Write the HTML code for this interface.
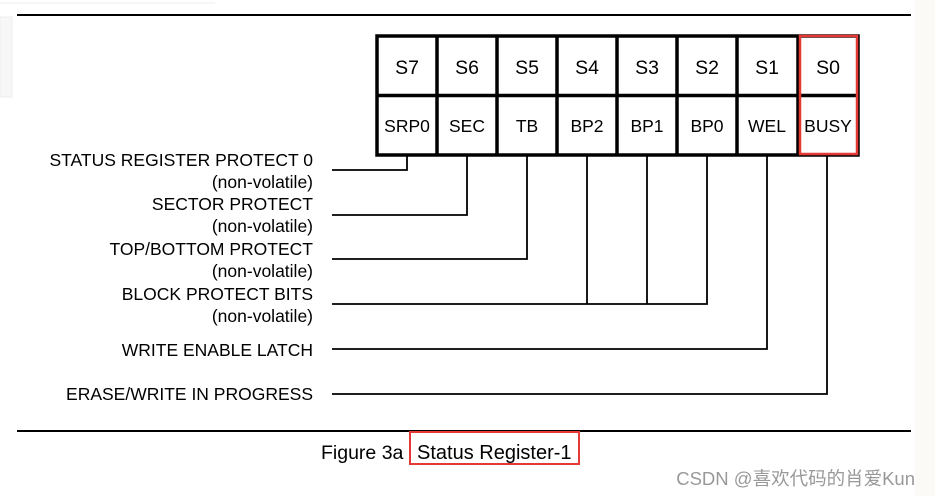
<!DOCTYPE html>
<html><head><meta charset="utf-8"><style>
html,body{margin:0;padding:0;background:#fff;}
svg{display:block;}
text{font-family:"Liberation Sans",Arial,sans-serif;fill:#000;}
</style></head><body>
<svg width="935" height="496" viewBox="0 0 935 496" xmlns="http://www.w3.org/2000/svg">
<rect x="0" y="0" width="935" height="496" fill="#fff"/>
<rect x="915" y="0" width="20" height="496" fill="#fbfaf7"/>
<rect x="0" y="17" width="12" height="80" fill="#f7f7f7" stroke="#eee"/>
<line x1="0" y1="3" x2="215" y2="3" stroke="#eee" stroke-width="1"/>
<line x1="17" y1="15" x2="911" y2="15" stroke="#000" stroke-width="2"/>
<line x1="17" y1="431" x2="911" y2="431" stroke="#000" stroke-width="2"/>
<g stroke="#000" stroke-width="3.5" fill="none">
<rect x="377" y="36" width="481" height="119"/>
<line x1="377" y1="95.5" x2="858" y2="95.5"/>
<line x1="437" y1="36" x2="437" y2="155"/>
<line x1="497" y1="36" x2="497" y2="155"/>
<line x1="557" y1="36" x2="557" y2="155"/>
<line x1="617" y1="36" x2="617" y2="155"/>
<line x1="677" y1="36" x2="677" y2="155"/>
<line x1="737" y1="36" x2="737" y2="155"/>
<line x1="798" y1="36" x2="798" y2="155"/>
</g>
<rect x="800" y="36" width="57" height="118" fill="none" stroke="#e53935" stroke-width="2.5"/>
<g font-size="19.5" text-anchor="middle">
<text x="407" y="74">S7</text><text x="467" y="74">S6</text><text x="527" y="74">S5</text><text x="587" y="74">S4</text>
<text x="647" y="74">S3</text><text x="707" y="74">S2</text><text x="767" y="74">S1</text><text x="828" y="74">S0</text>
</g>
<g font-size="17.5" text-anchor="middle">
<text x="407" y="132">SRP0</text><text x="467" y="132">SEC</text><text x="527" y="132">TB</text><text x="587" y="132">BP2</text>
<text x="647" y="132">BP1</text><text x="707" y="132">BP0</text><text x="767" y="132">WEL</text><text x="828" y="132">BUSY</text>
</g>
<g stroke="#000" stroke-width="1.8" fill="none">
<polyline points="332,170 407,170 407,156"/>
<polyline points="332,215 467,215 467,156"/>
<polyline points="332,259 527,259 527,156"/>
<polyline points="332,304 707,304 707,156"/>
<line x1="587" y1="156" x2="587" y2="304"/>
<line x1="647" y1="156" x2="647" y2="304"/>
<polyline points="332,349 767,349 767,156"/>
<polyline points="332,394 827,394 827,156"/>
</g>
<g font-size="17.5" text-anchor="end">
<text x="313" y="166">STATUS REGISTER PROTECT 0</text>
<text x="313" y="188">(non-volatile)</text>
<text x="313" y="210">SECTOR PROTECT</text>
<text x="313" y="232">(non-volatile)</text>
<text x="313" y="255">TOP/BOTTOM PROTECT</text>
<text x="313" y="277">(non-volatile)</text>
<text x="313" y="300">BLOCK PROTECT BITS</text>
<text x="313" y="322">(non-volatile)</text>
<text x="313" y="356">WRITE ENABLE LATCH</text>
<text x="313" y="400">ERASE/WRITE IN PROGRESS</text>
</g>
<text x="321" y="459" font-size="19.5">Figure 3a</text>
<text x="417" y="459" font-size="20">Status Register-1</text>
<rect x="410" y="432" width="169" height="32" fill="none" stroke="#e53935" stroke-width="2"/>
<text x="915" y="485" font-size="18.5" text-anchor="end" style="fill:#999;font-family:'Liberation Sans','Noto Sans CJK SC',sans-serif">CSDN @喜欢代码的肖爱Kun</text>
</svg>
</body></html>
